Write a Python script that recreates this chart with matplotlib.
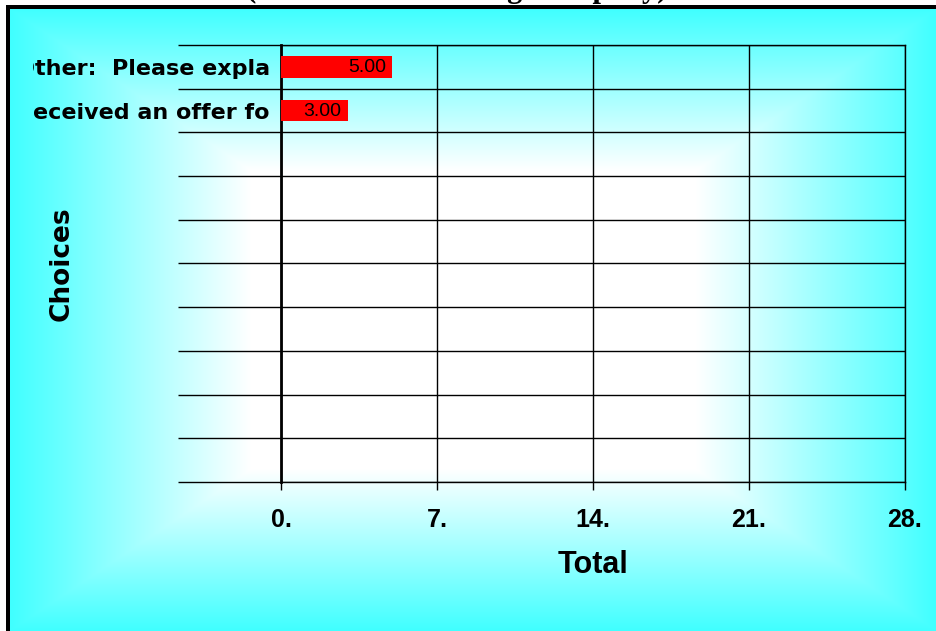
import matplotlib
matplotlib.use("Agg")
import matplotlib.pyplot as plt
import numpy as np
from matplotlib.patches import Rectangle
from matplotlib.ticker import FixedLocator
from matplotlib.transforms import Bbox, TransformedBbox

W, H = 937, 631

# data
choices = ["Other:  Please expla", "Received an offer fo"]
totals = [5.0, 3.0]
n_rows = 10
x_ticks = [0, 7, 14, 21, 28]
x_tick_labels = ["0.", "7.", "14.", "21.", "28."]
title = "Chart 10 (Reasons for Leaving Company)"

CYAN = np.array([64, 255, 255]) / 255

fig = plt.figure(figsize=(W / 100, H / 100), dpi=100)
fig.patch.set_facecolor("white")

# background: white centre fading to cyan at the edges, black frame top/left
bg = fig.add_axes([0, 0, 1, 1], zorder=-10)
bg.set_xlim(0, W)
bg.set_ylim(H, 0)
bg.axis("off")
x0, y0 = 10, 9
cx, cy = (x0 + W) / 2, (y0 + H) / 2
hw, hh = (W - x0) / 2, (H - y0) / 2
yy, xx = np.mgrid[y0:H, x0:W] + 0.5
t = np.maximum(np.abs(xx - cx) / hw, np.abs(yy - cy) / hh)
f = np.clip((t - 0.48) / 0.52, 0, 1)[..., None]
img = (1 - f) * 1.0 + f * CYAN
bg.imshow(img, extent=(x0, W, H, y0), aspect="auto", interpolation="bilinear")
bg.add_patch(Rectangle((6, 5), 4, H - 5, color="black", lw=0))
bg.add_patch(Rectangle((6, 5), W - 6, 4, color="black", lw=0))

# title sits above the picture, only the descenders peek in
fig.text(0.13, 1 + 3.5 / H, title, ha="left", va="baseline",
         family="Liberation Serif", fontweight="bold", fontsize=22)

ax = fig.add_axes([281 / W, (H - 482) / H, 624 / W, 437 / H])
ax.set_facecolor("none")

y = np.arange(len(choices))
ax.barh(y, totals, height=0.5, color="#FF0000", zorder=3)
for yi, v in zip(y, totals):
    ax.annotate(f"{v:.2f}", xy=(v, yi), xytext=(-4.5, -0.5),
                textcoords="offset points", ha="right", va="center",
                family="Liberation Sans", fontsize=14, zorder=4)

ax.set_xlim(0, 28)
ax.set_ylim(n_rows - 0.5, -0.5)
ax.set_xticks(x_ticks, x_tick_labels, family="Liberation Sans",
              fontweight="bold", fontsize=18)
ax.set_yticks(y, choices, family="DejaVu Sans", fontweight="bold", fontsize=16)
ax.yaxis.set_minor_locator(FixedLocator(np.arange(-0.5, n_rows, 1)))

ax.tick_params(axis="y", which="major", length=0, pad=8)
ax.tick_params(axis="y", which="minor", length=74, width=1, color="black")
ax.tick_params(axis="x", which="major", length=6, width=1, pad=13, color="black")
ax.grid(axis="y", which="minor", color="black", lw=1)
ax.grid(axis="x", which="major", color="black", lw=1)
for s in ax.spines.values():
    s.set_linewidth(1)
ax.spines["left"].set_linewidth(2)

ax.set_xlabel("Total", family="Liberation Sans", fontweight="bold",
              fontsize=22, va="center")
ax.xaxis.set_label_coords(0.5, (482 - 565) / 437)
ax.set_ylabel("Choices", family="DejaVu Sans", fontweight="bold",
              fontsize=19, va="center")
ax.yaxis.set_label_coords((62 - 281) / 624, 0.5)

# long category names get cut at the left edge of the chart area
clip = TransformedBbox(Bbox([[33 / W, 0], [1, 1]]), fig.transFigure)
for lab in ax.get_yticklabels():
    lab.set_clip_box(clip)
    lab.set_clip_on(True)

fig.savefig("out.png", dpi=100)
